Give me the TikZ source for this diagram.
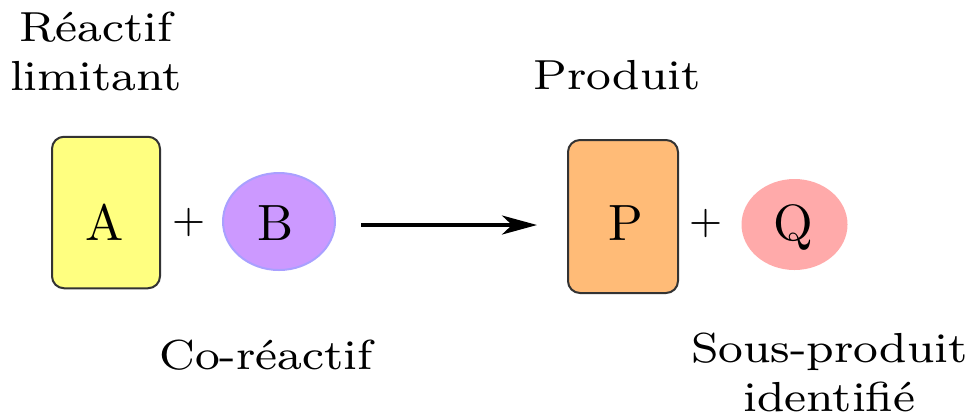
\documentclass[tikz,border=0pt]{standalone}
\usepackage{graphicx}
\usetikzlibrary{arrows.meta,shapes.geometric}
\definecolor{cA}{HTML}{FFFF80}
\definecolor{cB}{HTML}{CC99FF}
\definecolor{cBd}{HTML}{A9A0FF}
\definecolor{cP}{HTML}{FFBB77}
\definecolor{cQ}{HTML}{FFAAAA}
\definecolor{edge}{HTML}{333333}
\newcommand{\wtx}[1]{\scalebox{1.11}[1]{#1}}
\begin{document}
\begin{tikzpicture}[x=0.2pt,y=-0.2pt,
  box/.style={draw=edge, line width=0.4pt, rounded corners=2.4pt, inner sep=0pt},
  blob/.style={ellipse, inner sep=0pt},
  letter/.style={font=\fontsize{10.2}{12}\selectfont, anchor=base, inner sep=0pt},
  plus/.style={font=\fontsize{8}{10}\selectfont, inner sep=0pt},
  lbl/.style={font=\fontsize{8.4}{9.7}\selectfont, align=center, inner sep=0pt},
  arr/.style={line width=0.65pt, -{Stealth[length=7pt,width=3.8pt,inset=2pt]}}]
\useasboundingbox (0,0) rectangle (971,416);
% reactants
\node[box, fill=cA, minimum width=21.6pt, minimum height=30.3pt] (A) at (106,212.5) {};
\node[letter] (Al) at (105,240) {A};
\node[plus] (p1) at (189,222.5) {+};
\node[blob, fill=cB, draw=cBd, line width=0.4pt, minimum width=22.4pt, minimum height=19.4pt] (B) at (279,221.5) {};
\node[letter] (Bl) at (276,240) {B};
% arrow
\coordinate (s) at (361,225);
\coordinate (e) at (537,225);
\draw[arr] (s) -- (e);
% products
\node[box, fill=cP, minimum width=22pt, minimum height=30.6pt] (P) at (623,216.5) {};
\node[letter] (Pl) at (626,240) {P};
\node[plus] (p2) at (706,223) {+};
\node[blob, fill=cQ, minimum width=21.2pt, minimum height=18.2pt] (Q) at (794.5,224.5) {};
\node[letter] (Ql) at (793,240) {Q};
% labels
\node[lbl, anchor=north] (rl) at (96,11) {\wtx{Réactif}\\\wtx{limitant}};
\node[lbl, anchor=base] (prod) at (617,89) {\wtx{Produit}};
\node[lbl, anchor=base] (cor) at (266,369) {\wtx{Co-réactif}};
\node[lbl, anchor=north] (sp) at (829.5,332) {\wtx{Sous-produit}\\\wtx{identifié}};
\end{tikzpicture}
\end{document}
